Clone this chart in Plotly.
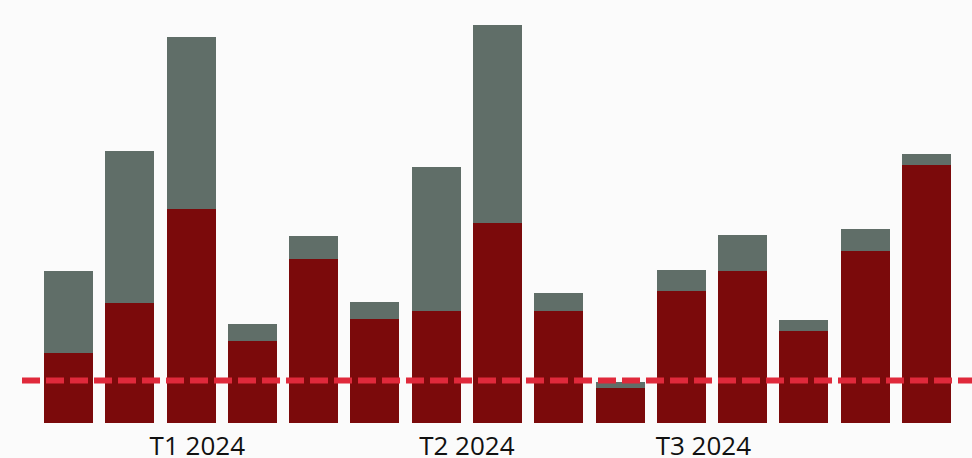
import plotly.graph_objects as go

# Data (arbitrary units)
periods = list(range(15))
red_values = [17.5, 30, 53.5, 20.5, 41, 26, 28, 50, 28, 8.8, 33, 38, 23, 43, 64.5]
gray_values = [20.5, 38, 43, 4.3, 5.8, 4.3, 36, 49.5, 4.5, 1.5, 5.3, 9, 2.8, 5.5, 2.8]
threshold = 10.6
tick_positions = [2.1, 6.5, 10.36]
tick_labels = ["T1 2024", "T2 2024", "T3 2024"]

RED = "#7B0A0B"
GRAY = "#606E68"
LINE = "#E0293B"

fig = go.Figure()
fig.add_trace(go.Bar(x=periods, y=red_values, marker=dict(color=RED, line=dict(width=0)),
                     hoverinfo="skip"))
fig.add_trace(go.Bar(x=periods, y=gray_values, marker=dict(color=GRAY, line=dict(width=0)),
                     hoverinfo="skip"))

fig.add_shape(type="line", xref="paper", yref="y",
              x0=-0.0174, x1=1.03, y0=threshold, y1=threshold,
              line=dict(color=LINE, width=6, dash="18px,6px"), layer="above")

fig.update_layout(
    width=972, height=458,
    margin=dict(l=38, r=15, t=0, b=35, autoexpand=False),
    barmode="stack", bargap=0.2,
    showlegend=False,
    paper_bgcolor="#fbfbfb", plot_bgcolor="rgba(0,0,0,0)",
    xaxis=dict(range=[-0.5, 14.5], tickmode="array", tickvals=tick_positions,
               ticktext=tick_labels, showgrid=False, zeroline=False, showline=False,
               ticks="", ticklabelstandoff=5, automargin=False,
               tickfont=dict(family="Open Sans", size=26, color="#111111")),
    yaxis=dict(range=[0, 105.75], visible=False, showgrid=False, zeroline=False),
)

fig.write_html("out.html")
